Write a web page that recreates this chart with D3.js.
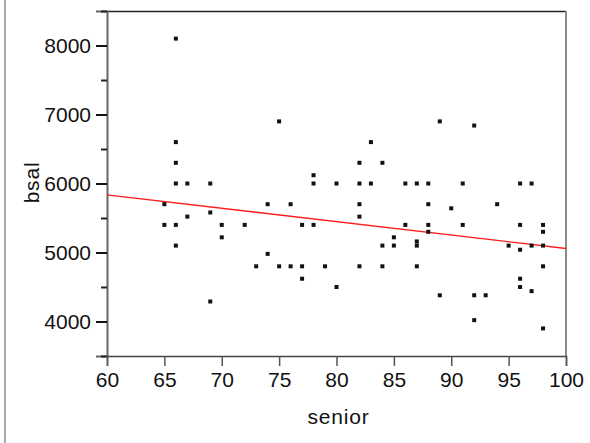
<!DOCTYPE html>
<html>
<head>
<meta charset="utf-8">
<script src="https://cdn.jsdelivr.net/npm/d3@7"></script>
<style>
  html, body { margin: 0; padding: 0; background: #fff; }
  svg { display: block; font-family: "Liberation Sans", Arial, sans-serif; }
</style>
</head>
<body>
<svg id="chart" width="590" height="443"></svg>
<script>
// Seniority (months) and beginning salary for each employee
const senior = [
  65, 65,
  66, 66, 66, 66, 66, 66,
  67, 67,
  69, 69, 69,
  70, 70,
  72, 73,
  74, 74,
  75, 75,
  76, 76,
  77, 77, 77,
  78, 78, 78,
  79,
  80, 80,
  82, 82, 82, 82, 82,
  83, 83,
  84, 84, 84,
  85, 85,
  86, 86,
  87, 87, 87, 87,
  88, 88, 88, 88,
  89, 89,
  90,
  91, 91,
  92, 92, 92,
  93, 94, 95,
  96, 96, 96, 96, 96,
  97, 97, 97,
  98, 98, 98, 98, 98
];
const bsal = [
  5700, 5400,
  8100, 6600, 6300, 6000, 5400, 5100,
  6000, 5520,
  6000, 5580, 4290,
  5400, 5220,
  5400, 4800,
  5700, 4980,
  6900, 4800,
  5700, 4800,
  5400, 4800, 4620,
  6120, 6000, 5400,
  4800,
  6000, 4500,
  6300, 6000, 5700, 5520, 4800,
  6600, 6000,
  6300, 5100, 4800,
  5220, 5100,
  6000, 5400,
  6000, 5160, 5100, 4800,
  6000, 5700, 5400, 5300,
  6900, 4380,
  5640,
  6000, 5400,
  6840, 4380, 4020,
  4380, 5700, 5100,
  6000, 5400, 5040, 4620, 4500,
  6000, 5100, 4440,
  5400, 5300, 5100, 4800, 3900
];

// Least-squares fit line, evaluated at the ends of the seniority axis
const fitSenior = [60, 100];
const fitBsal = [5836, 5058];

// Axis ticks
const xTicks = [60, 65, 70, 75, 80, 85, 90, 95, 100];
const yTicks = [4000, 5000, 6000, 7000, 8000];
const yMinorTicks = [3500, 4500, 5500, 6500, 7500, 8500];

const svg = d3.select("#chart");

const plotLeft = 107, plotRight = 566, plotTop = 11, plotBottom = 356;
const labelFont = "Liberation Sans, Arial, sans-serif";

const x = d3.scaleLinear().domain([60, 100]).range([plotLeft, plotRight]);
const y = d3.scaleLinear().domain([3500, 8500]).range([plotBottom, plotTop]);

// Panel edge on the far left
svg.append("rect")
  .attr("x", 4).attr("y", 0).attr("width", 2).attr("height", 443)
  .attr("fill", "#a8a8a8");

// Frame: top edge and right edge
svg.append("line")
  .attr("x1", plotLeft).attr("x2", plotRight)
  .attr("y1", plotTop + 0.5).attr("y2", plotTop + 0.5)
  .attr("stroke", "#222").attr("stroke-width", 1.5);
svg.append("line")
  .attr("x1", plotRight).attr("x2", plotRight)
  .attr("y1", plotTop).attr("y2", plotBottom)
  .attr("stroke", "#8a8a8a").attr("stroke-width", 2);

// Y axis: labelled major ticks and short minor ticks
const yAxis = svg.append("g")
  .attr("transform", `translate(${plotLeft},0)`)
  .call(d3.axisLeft(y).tickValues(yTicks).tickSize(11).tickPadding(5)
    .tickFormat(d3.format("d")));
yAxis.select(".domain").attr("stroke", "#666").attr("stroke-width", 2);
yAxis.selectAll(".tick line").attr("stroke", "#111").attr("stroke-width", 2);
yAxis.selectAll(".tick text")
  .attr("font-size", 21).attr("fill", "#111")
  .attr("font-family", labelFont);

const yMinor = svg.append("g")
  .attr("transform", `translate(${plotLeft},0)`)
  .call(d3.axisLeft(y).tickValues(yMinorTicks).tickSize(6).tickFormat(""));
yMinor.select(".domain").remove();
yMinor.selectAll(".tick line").attr("stroke", "#222").attr("stroke-width", 2);

// X axis
const xAxis = svg.append("g")
  .attr("transform", `translate(0,${plotBottom})`)
  .call(d3.axisBottom(x).tickValues(xTicks).tickSize(10).tickPadding(6)
    .tickFormat(d3.format("d")));
xAxis.select(".domain").attr("stroke", "#444").attr("stroke-width", 1.5);
xAxis.selectAll(".tick line").attr("stroke", "#555").attr("stroke-width", 1.5);
xAxis.selectAll(".tick text")
  .attr("font-size", 21).attr("fill", "#111")
  .attr("font-family", labelFont);

// Axis titles
svg.append("text")
  .attr("x", (plotLeft + plotRight) / 2 + 2).attr("y", 424)
  .attr("text-anchor", "middle")
  .attr("font-size", 21).attr("fill", "#111")
  .attr("letter-spacing", 0.8)
  .text("senior");
svg.append("text")
  .attr("transform", `translate(39,${(plotTop + plotBottom) / 2 - 1}) rotate(-90)`)
  .attr("text-anchor", "middle")
  .attr("font-size", 21).attr("fill", "#111")
  .attr("letter-spacing", 0.8)
  .text("bsal");

// Regression line
const fit = fitSenior.map((s, i) => ({ s, b: fitBsal[i] }));
svg.append("path")
  .datum(fit)
  .attr("fill", "none")
  .attr("stroke", "#ff1a1a")
  .attr("stroke-width", 1.3)
  .attr("d", d3.line().x(d => x(d.s)).y(d => y(d.b)));

// Employee points
const pts = senior.map((s, i) => ({ s, b: bsal[i] }));
svg.append("g")
  .selectAll("rect")
  .data(pts)
  .join("rect")
  .attr("x", d => x(d.s) - 2)
  .attr("y", d => y(d.b) - 2)
  .attr("width", 4)
  .attr("height", 4)
  .attr("fill", "#111");
</script>
</body>
</html>
